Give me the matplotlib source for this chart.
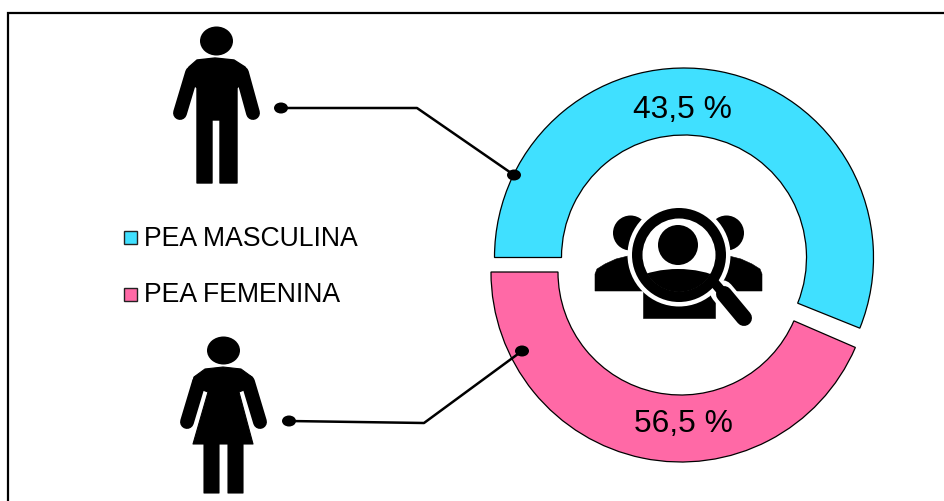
import numpy as np
import matplotlib
matplotlib.use('Agg')
import matplotlib.pyplot as plt
from matplotlib.patches import Wedge, Circle, Ellipse, Polygon, Rectangle

plt.rcParams['font.family'] = ['Liberation Sans', 'DejaVu Sans']

# Data: ring sweep (percent of the circle) and the labels printed on it
categories = ['PEA MASCULINA', 'PEA FEMENINA']
ring_shares = [56.5, 43.5]
ring_labels = ['43,5 %', '56,5 %']
colors = ['#40E0FF', '#FF69A6']

# Drawing in pixel coordinates, y pointing down
fig = plt.figure(figsize=(9.44, 5.01), dpi=100)
ax = fig.add_axes([0, 0, 1, 1])
ax.set_xlim(0, 944)
ax.set_ylim(501, 0)
ax.axis('off')

# Frame: only the top and left edges are visible
ax.plot([8, 8, 944], [501, 12.5, 12.5], color='black', lw=1.6, solid_joinstyle='miter')

# Ring segments, split so that they meet on the horizontal at the left
end_angle = 180 + ring_shares[0] * 3.6
ax.add_patch(Wedge((684, 257.5), 189.5, 180, end_angle - 1.5, width=67,
                   fc=colors[0], ec='black', lw=0.9))
ax.add_patch(Wedge((681, 272), 190, end_angle - 360, 180, width=67,
                   fc=colors[1], ec='black', lw=0.9))
ax.text(682, 110, ring_labels[0], fontsize=22.9, ha='center', va='center')
ax.text(683, 424, ring_labels[1], fontsize=22.9, ha='center', va='center')

# Legend
for col, y in zip(colors, [237, 294]):
    ax.add_patch(Rectangle((124, y - 6.5), 13, 13, fc=col, ec='#222222', lw=1.0))
for cat, y in zip(categories, [239, 295]):
    ax.text(144, y, cat, fontsize=19.2, ha='left', va='center')


def blob(pts, lw=1.5, color='black', z=3):
    ax.add_patch(Polygon(pts, closed=True, fc=color, ec=color, lw=lw,
                         joinstyle='round', zorder=z))


def limb(xs, ys, width):
    ax.plot(xs, ys, color='black', lw=width, solid_capstyle='round', zorder=3)


# Man icon
ax.add_patch(Ellipse((216.5, 41), 33, 29, fc='black', ec='none'))
blob([(197, 60), (215, 58), (234, 60), (245, 67), (248, 76), (237, 88), (237, 183),
      (220, 183), (220, 120), (212, 120), (212, 183), (197, 183), (197, 88),
      (186, 76), (189, 67)], lw=1.0)
limb([192, 180], [73, 113], 10)
limb([242, 253], [73, 113], 10)

# Woman icon
ax.add_patch(Ellipse((223.5, 350.5), 33, 28, fc='black', ec='none'))
blob([(205, 369), (223, 367), (241, 369), (252, 377), (254, 386), (239, 392), (253, 444),
      (243, 444), (243, 493), (228, 493), (228, 444), (219, 444), (219, 493), (204, 493),
      (204, 444), (193, 444), (208, 392), (192, 386), (194, 377)], lw=0.8)
limb([199, 187], [382, 422], 10)
limb([248, 260], [382, 422], 10)

# Leader lines with round ends
leaders = [([281, 417, 514], [108, 108, 175]), ([289, 424, 522], [421, 423, 351])]
for xs, ys in leaders:
    ax.plot(xs, ys, color='black', lw=1.8, zorder=4)
    for i in (0, -1):
        ax.add_patch(Ellipse((xs[i], ys[i]), 14, 11, fc='black', ec='none', zorder=5))

# Centre icon: people under a magnifying glass
for hx, sign in [(630.5, 1), (726.5, -1)]:
    ax.add_patch(Circle((hx, 233), 17.5, fc='black', ec='none', zorder=3))
    bx = 678.5 - 83.5 * sign
    blob([(bx, 291), (bx, 274), (bx + 2 * sign, 269), (bx + 10 * sign, 264), (bx + 21 * sign, 259),
          (bx + 33 * sign, 256), (bx + 65 * sign, 256), (bx + 65 * sign, 291)], lw=0.4)
blob([(643, 318), (643, 290), (715, 290), (715, 318)], lw=0.4)

gc = (679, 255)
ax.add_patch(Circle(gc, 51.5, fc='white', ec='none', zorder=4))
ax.plot([722, 744], [292, 318], color='white', lw=17, solid_capstyle='round', zorder=4)
ax.plot([712, 724], [280, 294], color='black', lw=7, zorder=5)
ax.plot([724, 744], [294, 318], color='black', lw=11.5, solid_capstyle='round', zorder=5)
ax.add_patch(Circle(gc, 47, fc='black', ec='none', zorder=5))
ax.add_patch(Circle(gc, 36.5, fc='white', ec='none', zorder=6))
ax.add_patch(Circle((678, 245), 20, fc='black', ec='none', zorder=7))
shoulders = Ellipse((678, 300), 120, 62, fc='black', ec='none', zorder=7)
ax.add_patch(shoulders)
shoulders.set_clip_path(Circle(gc, 37, transform=ax.transData))

fig.savefig('out.png', dpi=100, facecolor='white')
